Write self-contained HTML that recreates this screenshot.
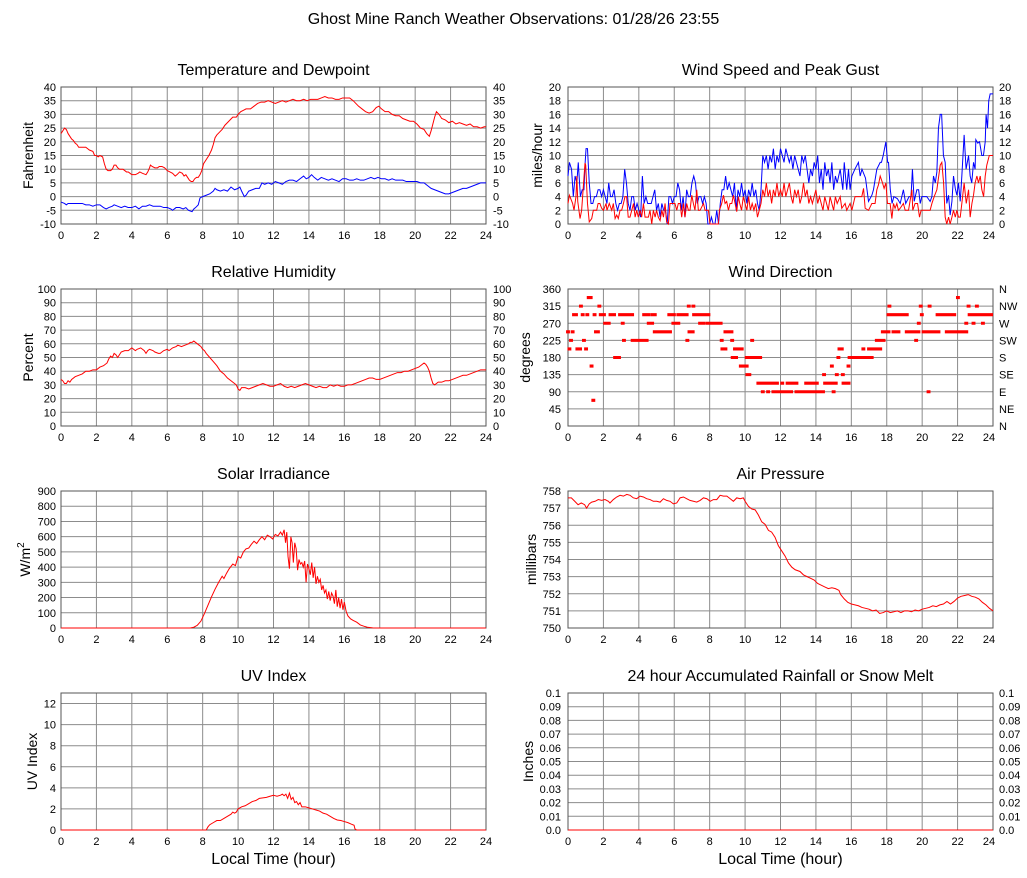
<!DOCTYPE html>
<html><head><meta charset="utf-8"><style>
html,body{margin:0;padding:0;background:#fff}
svg{display:block}
text{font-family:"Liberation Sans",Arial,Helvetica,sans-serif;fill:#000}
.t{font-size:16px;text-anchor:middle}
.k{font-size:11px}
.e{text-anchor:end}
.m{text-anchor:middle}
.a{font-size:14px;text-anchor:middle}
.g{stroke:#8c8c8c;stroke-width:1;fill:none}
.f{stroke:#555;stroke-width:1;fill:none}
.r{stroke:#f00;stroke-width:1;fill:none}
.b{stroke:#00f;stroke-width:1;fill:none}
</style></head><body>
<svg width="1027" height="878" viewBox="0 0 1027 878" xmlns="http://www.w3.org/2000/svg">
<defs>
<path id="vg" d="M35.42 0V137M70.83 0V137M106.25 0V137M141.67 0V137M177.08 0V137M212.5 0V137M247.92 0V137M283.33 0V137M318.75 0V137M354.17 0V137M389.58 0V137"/>
<path id="h10" d="M0 13.7H425M0 27.4H425M0 41.1H425M0 54.8H425M0 68.5H425M0 82.2H425M0 95.9H425M0 109.6H425M0 123.3H425"/>
<path id="h8" d="M0 17.125H425M0 34.25H425M0 51.375H425M0 68.5H425M0 85.625H425M0 102.75H425M0 119.875H425"/>
<path id="h9" d="M0 15.22H425M0 30.44H425M0 45.67H425M0 60.89H425M0 76.11H425M0 91.33H425M0 106.56H425M0 121.78H425"/>
<path id="huv" d="M0 10.54H425M0 31.62H425M0 52.69H425M0 73.77H425M0 94.85H425M0 115.92H425"/>
</defs>
<rect width="1027" height="878" fill="#fff"/>
<text x="513.5" y="24" class="t">Ghost Mine Ranch Weather Observations: 01/28/26 23:55</text>

<!-- titles -->
<text x="273.5" y="75" class="t">Temperature and Dewpoint</text>
<text x="780.5" y="75" class="t">Wind Speed and Peak Gust</text>
<text x="273.5" y="277" class="t">Relative Humidity</text>
<text x="780.5" y="277" class="t">Wind Direction</text>
<text x="273.5" y="479" class="t">Solar Irradiance</text>
<text x="780.5" y="479" class="t">Air Pressure</text>
<text x="273.5" y="681" class="t">UV Index</text>
<text x="780.5" y="681" class="t">24 hour Accumulated Rainfall or Snow Melt</text>
<text x="273.5" y="864" class="t">Local Time (hour)</text>
<text x="780.5" y="864" class="t">Local Time (hour)</text>

<!-- axis labels -->
<text class="a" transform="translate(33,155.5) rotate(-90)">Fahrenheit</text>
<text class="a" transform="translate(33,357.5) rotate(-90)">Percent</text>
<text class="a" transform="translate(30,559.5) rotate(-90)">W/m<tspan font-size="10" dy="-6">2</tspan></text>
<text class="a" transform="translate(37,761.5) rotate(-90)">UV Index</text>
<text class="a" transform="translate(542,155.5) rotate(-90)">miles/hour</text>
<text class="a" transform="translate(530,357.5) rotate(-90)">degrees</text>
<text class="a" transform="translate(536,559.5) rotate(-90)">millibars</text>
<text class="a" transform="translate(533,761.5) rotate(-90)">Inches</text>

<!-- x tick labels -->
<g class="k m" transform="translate(61,239)"><text x="0">0</text><text x="35.4">2</text><text x="70.8">4</text><text x="106.3">6</text><text x="141.7">8</text><text x="177.1">10</text><text x="212.5">12</text><text x="247.9">14</text><text x="283.3">16</text><text x="318.8">18</text><text x="354.2">20</text><text x="389.6">22</text><text x="425">24</text></g>
<g class="k m" transform="translate(568,239)"><text x="0">0</text><text x="35.4">2</text><text x="70.8">4</text><text x="106.3">6</text><text x="141.7">8</text><text x="177.1">10</text><text x="212.5">12</text><text x="247.9">14</text><text x="283.3">16</text><text x="318.8">18</text><text x="354.2">20</text><text x="389.6">22</text><text x="421">24</text></g>
<g class="k m" transform="translate(61,441)"><text x="0">0</text><text x="35.4">2</text><text x="70.8">4</text><text x="106.3">6</text><text x="141.7">8</text><text x="177.1">10</text><text x="212.5">12</text><text x="247.9">14</text><text x="283.3">16</text><text x="318.8">18</text><text x="354.2">20</text><text x="389.6">22</text><text x="425">24</text></g>
<g class="k m" transform="translate(568,441)"><text x="0">0</text><text x="35.4">2</text><text x="70.8">4</text><text x="106.3">6</text><text x="141.7">8</text><text x="177.1">10</text><text x="212.5">12</text><text x="247.9">14</text><text x="283.3">16</text><text x="318.8">18</text><text x="354.2">20</text><text x="389.6">22</text><text x="421">24</text></g>
<g class="k m" transform="translate(61,643)"><text x="0">0</text><text x="35.4">2</text><text x="70.8">4</text><text x="106.3">6</text><text x="141.7">8</text><text x="177.1">10</text><text x="212.5">12</text><text x="247.9">14</text><text x="283.3">16</text><text x="318.8">18</text><text x="354.2">20</text><text x="389.6">22</text><text x="425">24</text></g>
<g class="k m" transform="translate(568,643)"><text x="0">0</text><text x="35.4">2</text><text x="70.8">4</text><text x="106.3">6</text><text x="141.7">8</text><text x="177.1">10</text><text x="212.5">12</text><text x="247.9">14</text><text x="283.3">16</text><text x="318.8">18</text><text x="354.2">20</text><text x="389.6">22</text><text x="421">24</text></g>
<g class="k m" transform="translate(61,845)"><text x="0">0</text><text x="35.4">2</text><text x="70.8">4</text><text x="106.3">6</text><text x="141.7">8</text><text x="177.1">10</text><text x="212.5">12</text><text x="247.9">14</text><text x="283.3">16</text><text x="318.8">18</text><text x="354.2">20</text><text x="389.6">22</text><text x="425">24</text></g>
<g class="k m" transform="translate(568,845)"><text x="0">0</text><text x="35.4">2</text><text x="70.8">4</text><text x="106.3">6</text><text x="141.7">8</text><text x="177.1">10</text><text x="212.5">12</text><text x="247.9">14</text><text x="283.3">16</text><text x="318.8">18</text><text x="354.2">20</text><text x="389.6">22</text><text x="421">24</text></g>

<!-- C1 Temperature -->
<g transform="translate(61,87)">
<g class="g"><use href="#vg"/><use href="#h10"/></g>
<rect class="f" x="0" y="0" width="425" height="137"/>
<g class="k e"><text x="-5" y="4">40</text><text x="-5" y="17.7">35</text><text x="-5" y="31.4">30</text><text x="-5" y="45.1">25</text><text x="-5" y="58.8">20</text><text x="-5" y="72.5">15</text><text x="-5" y="86.2">10</text><text x="-5" y="99.9">5</text><text x="-5" y="113.6">0</text><text x="-5" y="127.3">-5</text><text x="-5" y="141">-10</text></g>
<g class="k"><text x="432" y="4">40</text><text x="432" y="17.7">35</text><text x="432" y="31.4">30</text><text x="432" y="45.1">25</text><text x="432" y="58.8">20</text><text x="432" y="72.5">15</text><text x="432" y="86.2">10</text><text x="432" y="99.9">5</text><text x="432" y="113.6">0</text><text x="432" y="127.3">-5</text><text x="432" y="141">-10</text></g>
<g transform="translate(0,137) scale(17.7083,-2.74) translate(0,10)">
<polyline class="r" vector-effect="non-scaling-stroke" points="0,23 0.1,24 0.2,25 0.3,24.5 0.4,23 0.5,22 0.6,21 0.7,20.5 0.8,19.5 0.9,19 1,18 1.2,18 1.4,18 1.5,17.5 1.6,17 1.8,16.5 1.9,15 2,15 2.1,14.5 2.2,15 2.35,14.5 2.45,12 2.55,10 2.65,9.5 2.8,9.5 2.9,10 3,11.5 3.1,11.5 3.2,10.5 3.3,10 3.4,10 3.5,10 3.6,9.5 3.7,9 3.8,9 3.9,8.5 4,8 4.2,8 4.35,8.5 4.45,9 4.6,8.5 4.8,8 4.9,9 5,10.5 5.05,11.5 5.15,11 5.3,10.5 5.45,10.5 5.55,11 5.7,11 5.85,10.5 6,9.5 6.15,9 6.3,8.5 6.45,7.5 6.55,8 6.7,9 6.85,8.5 6.95,7.5 7.05,8 7.15,7 7.25,6 7.35,5.5 7.45,5.5 7.55,6.5 7.65,7 7.75,7 7.85,8 7.95,9.5 8.05,12 8.2,13.5 8.35,15 8.5,17 8.6,19 8.7,21.5 8.8,22.5 8.95,23.5 9.1,24.5 9.25,26 9.4,27 9.55,28 9.7,29 9.9,29 10,30 10.15,31 10.3,31.5 10.45,32 10.7,32 10.9,33 11.1,34 11.3,34.5 11.5,34.5 11.7,35 11.9,34.5 12.1,34 12.3,34.5 12.5,35 12.7,34.5 12.9,35 13.1,35.5 13.3,35 13.5,35 13.7,35.5 13.9,35 14.1,35.5 14.3,35.5 14.5,35.5 14.7,36 14.9,36.5 15.1,36 15.3,36 15.5,35.5 15.7,35.5 15.9,36 16.1,36 16.3,36 16.5,35 16.65,34 16.8,33 17,32 17.2,31 17.4,30.5 17.6,31 17.8,32.5 17.95,33 18.1,32 18.3,31 18.5,31 18.7,30 18.9,29.5 19.1,29.5 19.3,28.5 19.5,28 19.7,27.5 19.9,27.5 20.1,26.5 20.3,25 20.5,24.5 20.65,23 20.8,22 20.9,24 21,26.5 21.1,29 21.2,31 21.35,30 21.5,28.5 21.7,28 21.9,27 22.1,27.5 22.3,26.5 22.5,27 22.7,26.5 22.9,26 23.1,26.5 23.3,25.5 23.5,25.5 23.7,25 23.9,25.5 24,25.5"/>
<polyline class="b" vector-effect="non-scaling-stroke" points="0,-2 0.2,-2.5 0.3,-3 0.4,-2.5 0.6,-2.5 0.8,-2.5 1,-2.5 1.2,-2.5 1.4,-3 1.6,-3 1.8,-3.5 2,-3 2.2,-3 2.4,-4 2.55,-4.5 2.7,-4 2.9,-3.5 3,-3 3.2,-3.5 3.4,-4 3.6,-3.5 3.8,-4 4,-4 4.2,-3.5 4.4,-4.5 4.6,-3.5 4.8,-3.5 5,-3 5.2,-3.5 5.4,-3.5 5.6,-3.5 5.8,-4 6,-4 6.2,-4.5 6.3,-5 6.5,-4 6.7,-4 6.9,-4.5 7.05,-4 7.2,-5 7.4,-5.5 7.5,-4.5 7.6,-4 7.75,-3 7.85,-0.5 8,0 8.2,0.5 8.4,1 8.6,2 8.7,3 8.8,2.5 9,2 9.2,2.5 9.4,2 9.6,3.5 9.8,2.5 10,3 10.1,3.5 10.2,2 10.35,0 10.45,0.5 10.6,2 10.8,2.5 11,3 11.2,3 11.35,5 11.5,4.5 11.7,5 11.9,4.5 12.1,5.5 12.3,5 12.5,4.5 12.7,5.5 12.9,6 13.1,6 13.3,5.5 13.5,6.5 13.7,7.5 13.85,6.5 14,7 14.15,8 14.3,7 14.5,6 14.7,7 14.9,6.5 15.1,6 15.3,6.5 15.5,6 15.7,5.5 15.9,6.5 16.1,6.5 16.3,6 16.5,6 16.7,6.5 16.9,6 17.1,6 17.3,6.5 17.5,7 17.7,6.5 17.9,7 18.1,6.5 18.3,6.5 18.5,6 18.7,6.5 18.9,6 19.1,6 19.3,6 19.5,5.5 19.7,5.5 19.9,5.5 20.1,5.5 20.3,5 20.5,5 20.7,4 20.9,3 21.1,2.5 21.3,2 21.5,1.5 21.7,1 21.9,1 22.1,1.5 22.3,2 22.5,2.5 22.7,3 22.9,3 23.1,3.5 23.3,4 23.5,4.5 23.7,5 23.9,5 24,5"/>
</g>
</g>

<!-- C2 Wind speed -->
<g transform="translate(568,87)">
<g class="g"><use href="#vg"/><use href="#h10"/></g>
<rect class="f" x="0" y="0" width="425" height="137"/>
<g class="k e"><text x="-7" y="4">20</text><text x="-7" y="17.7">18</text><text x="-7" y="31.4">16</text><text x="-7" y="45.1">14</text><text x="-7" y="58.8">12</text><text x="-7" y="72.5">10</text><text x="-7" y="86.2">8</text><text x="-7" y="99.9">6</text><text x="-7" y="113.6">4</text><text x="-7" y="127.3">2</text><text x="-7" y="141">0</text></g>
<g class="k"><text x="431" y="4">20</text><text x="431" y="17.7">18</text><text x="431" y="31.4">16</text><text x="431" y="45.1">14</text><text x="431" y="58.8">12</text><text x="431" y="72.5">10</text><text x="431" y="86.2">8</text><text x="431" y="99.9">6</text><text x="431" y="113.6">4</text><text x="431" y="127.3">2</text><text x="431" y="141">0</text></g>
<g transform="translate(0,137) scale(17.7083,-6.85)">
<polyline class="b" vector-effect="non-scaling-stroke" points="0,7 0.08,9 0.2,8 0.3,4 0.4,7 0.5,6 0.58,9 0.7,4 0.8,5 0.9,5 0.97,9 1.02,11 1.1,11 1.2,6 1.3,3 1.4,3 1.5,4 1.6,4 1.7,5 1.8,5 1.9,4 2,5 2.1,4 2.2,3 2.3,6 2.4,4 2.5,4 2.6,5 2.7,3 2.8,2 2.9,3 3,3 3.1,4 3.2,8 3.3,6 3.4,3 3.5,2 3.6,4 3.7,4 3.8,2 3.9,3 4,2 4.1,1 4.2,7 4.3,3 4.4,4 4.5,3 4.6,3 4.7,3 4.8,4 4.9,5 5,2 5.1,3 5.2,1 5.3,3 5.4,2 5.5,2 5.6,0 5.7,4 5.8,4 5.9,3 6,4 6.1,4 6.2,6 6.3,5 6.4,2 6.5,4 6.6,1 6.7,5 6.8,4 6.9,4 7,6 7.1,7 7.2,6 7.3,3 7.4,4 7.5,4 7.6,3 7.7,4 7.8,3 7.9,0 8,0 8.1,1 8.2,0 8.3,0 8.4,2 8.5,0 8.6,3 8.7,5 8.8,5 8.9,7 9,5 9.1,6 9.2,5 9.3,4 9.4,6 9.5,2 9.6,5 9.7,4 9.8,6 9.9,4 10,5 10.1,3 10.2,5 10.3,4 10.4,6 10.5,4 10.6,5 10.7,3 10.8,2 10.9,5 11,10 11.1,9 11.2,10 11.3,8 11.4,10 11.5,9 11.6,11 11.7,8 11.8,10 11.9,9 12,11 12.1,10 12.2,9 12.3,11 12.4,10 12.5,9 12.6,10 12.7,8 12.8,10 12.9,9 13,8 13.1,7 13.2,10 13.3,9 13.4,10 13.5,8 13.6,6 13.7,8 13.8,7 13.9,9 14,8 14.1,10 14.2,6 14.3,8 14.4,5 14.5,9 14.6,7 14.7,8 14.8,6 14.9,9 15,5 15.1,7 15.2,6 15.37,8 15.52,5 15.6,9 15.74,5 15.84,8 15.93,5 16.03,7 16.2,8 16.4,9 16.5,7 16.6,8 16.8,6.7 16.97,3.3 17.16,4.2 17.25,5 17.44,8 17.63,9 17.7,9 17.8,10 17.95,12 18.05,9 18.1,9 18.2,5 18.3,3 18.4,4 18.6,3.7 18.76,3 18.94,5 19.07,3 19.26,4 19.37,4 19.45,8 19.55,3.3 19.7,5 19.8,5 19.89,3 19.98,4 20.26,4 20.45,3.3 20.55,4 20.64,7 20.74,6 20.83,7.6 20.92,14 21.02,16 21.1,16 21.2,10 21.3,9 21.39,3 21.49,4.2 21.58,1.3 21.68,3.3 21.77,7 21.87,5.2 21.96,4.2 22.05,6 22.15,3.3 22.24,7 22.37,13 22.48,8 22.62,10 22.71,7 22.8,6 22.9,9 22.99,8 23.03,12.3 23.14,11.8 23.24,12 23.37,10 23.46,10 23.56,12 23.61,16 23.69,14 23.76,18 23.84,19 23.93,19 24,19"/>
<polyline class="r" vector-effect="non-scaling-stroke" points="0,3 0.08,4.2 0.26,3 0.34,2 0.45,4 0.5,7 0.55,3.3 0.68,0.8 0.77,2 0.96,8.9 1,8.6 1.1,3 1.2,0.3 1.34,0.8 1.43,2 1.62,2 1.7,3 1.8,3 1.9,2.3 2,2 2.15,3 2.2,2 2.33,3 2.47,2 2.56,3 2.66,0.8 2.75,1.3 2.84,0.8 2.94,2 3.03,2 3.13,3 3.22,4 3.31,4 3.4,1 3.5,1 3.6,2 3.7,3 3.79,1 3.88,2 3.97,1 4.07,2 4.16,1 4.26,3 4.35,1 4.54,1 4.63,2 4.73,0 4.82,2 4.92,1 5,2 5.1,1 5.2,0.5 5.3,2 5.39,1 5.48,3 5.57,0.3 5.67,0 5.76,3 5.91,3 6.04,3 6.14,2 6.23,3 6.33,3 6.42,1 6.52,3 6.61,1 6.7,3 6.8,2 6.89,2 6.99,4.2 7.08,3 7.17,2 7.27,5 7.36,2 7.46,2 7.65,3 7.74,2 7.83,2 7.93,2 8.02,0 8.21,0 8.4,0 8.49,0 8.55,2 8.68,3 8.78,4.2 8.87,3 8.96,3.3 9.06,2 9.15,3 9.25,3 9.34,4.2 9.53,1.8 9.62,4 9.7,3 9.8,2 9.9,4 10,3 10.1,2 10.2,4 10.3,2 10.4,3 10.5,2 10.6,3 10.7,1 10.8,2 10.9,3 11,5 11.1,4 11.2,6 11.3,4 11.4,5 11.5,3 11.6,5 11.7,4 11.8,6 11.9,4 12,5 12.1,4 12.2,6 12.3,4 12.4,5 12.5,6 12.6,4 12.7,3 12.8,5 12.9,4 13,5 13.1,3 13.2,4 13.3,6 13.4,4 13.5,5 13.6,3 13.7,4 13.8,3 13.9,4 14,5 14.1,3 14.2,4 14.3,3 14.4,2 14.5,4 14.6,3 14.7,2 14.8,4 14.9,3 15,2 15.1,4 15.2,3 15.37,4 15.46,2.3 15.65,3 15.74,2 15.93,3 16.03,2 16.21,4 16.4,4 16.59,4 16.69,5.2 16.78,2.3 16.97,2 17.16,3 17.34,3 17.44,5 17.53,5.7 17.63,7 17.76,6 17.85,5.2 17.95,6 18.04,3 18.19,3 18.29,0.8 18.38,3 18.47,2.3 18.57,3 18.66,2 18.76,2.3 18.94,3 19.04,2 19.23,2 19.42,5 19.47,2 19.6,3 19.74,3 19.85,1 19.94,2 20.17,2 20.45,2 20.55,3 20.68,4 20.83,5 21.02,8.6 21.11,9 21.21,6 21.3,1 21.39,0 21.49,1 21.58,0 21.68,1 21.77,2 21.87,1 21.96,2 22.05,1 22.15,1 22.24,3 22.37,6 22.49,3 22.62,5 22.71,1 22.81,3 22.9,4.2 22.99,6 23.09,7 23.18,6 23.28,7 23.37,5 23.47,4 23.56,7 23.65,8.6 23.79,10 24,10"/>
</g>
</g>

<!-- C3 Humidity -->
<g transform="translate(61,289)">
<g class="g"><use href="#vg"/><use href="#h10"/></g>
<rect class="f" x="0" y="0" width="425" height="137"/>
<g class="k e"><text x="-5" y="4">100</text><text x="-5" y="17.7">90</text><text x="-5" y="31.4">80</text><text x="-5" y="45.1">70</text><text x="-5" y="58.8">60</text><text x="-5" y="72.5">50</text><text x="-5" y="86.2">40</text><text x="-5" y="99.9">30</text><text x="-5" y="113.6">20</text><text x="-5" y="127.3">10</text><text x="-5" y="141">0</text></g>
<g class="k"><text x="432" y="4">100</text><text x="432" y="17.7">90</text><text x="432" y="31.4">80</text><text x="432" y="45.1">70</text><text x="432" y="58.8">60</text><text x="432" y="72.5">50</text><text x="432" y="86.2">40</text><text x="432" y="99.9">30</text><text x="432" y="113.6">20</text><text x="432" y="127.3">10</text><text x="432" y="141">0</text></g>
<g transform="translate(0,137) scale(17.7083,-1.37)">
<polyline class="r" vector-effect="non-scaling-stroke" points="0,34 0.1,33 0.2,31 0.3,31 0.4,33 0.5,32 0.6,34 0.8,36 1,37 1.2,38 1.4,40 1.6,40 1.8,41 2,41 2.2,43 2.4,44 2.6,46 2.7,49 2.8,51 2.9,50 3,53 3.1,52 3.2,50 3.3,52 3.4,54 3.6,55 3.8,55 4,57 4.1,56 4.2,55 4.3,56 4.5,57 4.6,56 4.7,55 4.8,53 4.9,55 5,56 5.2,55 5.3,54 5.5,53 5.6,53 5.8,55 6,56 6.1,55 6.3,57 6.5,58 6.6,59 6.8,58 7,59 7.2,60 7.3,61 7.4,61 7.5,62 7.6,61 7.7,60 7.8,59 7.9,58 8,56 8.1,55 8.2,53 8.4,50 8.6,47 8.8,44 9,40 9.2,38 9.4,35 9.6,33 9.8,31 9.9,30 10,27 10.1,26 10.2,28 10.4,28 10.6,27 10.8,28 11,29 11.2,30 11.4,31 11.6,30 11.8,29 12,29 12.2,30 12.4,31 12.6,29 12.8,28 13,29 13.2,28 13.4,29 13.6,30 13.8,31 14,30 14.2,29 14.4,28 14.6,29 14.8,28 15,28 15.2,30 15.4,29 15.6,30 15.8,29 16,29 16.2,30 16.4,30 16.6,31 16.8,32 17,33 17.2,34 17.4,35 17.6,35 17.8,34 18,34 18.2,35 18.4,36 18.6,37 18.8,38 19,39 19.2,39 19.4,40 19.6,40 19.8,41 20,42 20.2,43 20.4,45 20.5,46 20.6,45 20.7,43 20.8,40 20.9,35 21,31 21.1,30 21.3,32 21.5,32 21.7,33 21.9,33 22.1,34 22.3,35 22.5,36 22.7,37 22.9,37 23.1,38 23.3,39 23.5,40 23.7,41 23.9,41 24,41"/>
</g>
</g>

<!-- C4 Wind direction -->
<g transform="translate(568,289)">
<g class="g"><use href="#vg"/><use href="#h8"/></g>
<rect class="f" x="0" y="0" width="425" height="137"/>
<g class="k e"><text x="-7" y="4">360</text><text x="-7" y="21.1">315</text><text x="-7" y="38.3">270</text><text x="-7" y="55.4">225</text><text x="-7" y="72.5">180</text><text x="-7" y="89.6">135</text><text x="-7" y="106.8">90</text><text x="-7" y="123.9">45</text><text x="-7" y="141">0</text></g>
<g class="k"><text x="431" y="4">N</text><text x="431" y="21.1">NW</text><text x="431" y="38.3">W</text><text x="431" y="55.4">SW</text><text x="431" y="72.5">S</text><text x="431" y="89.6">SE</text><text x="431" y="106.8">E</text><text x="431" y="123.9">NE</text><text x="431" y="141">N</text></g>
<g transform="translate(0,137) scale(17.7083,-0.380556)">
<path fill="#f00" d="M-0.11 243.5h0.22v8h-0.22zM-0.03 198.5h0.22v8h-0.22zM0.06 221h0.22v8h-0.22zM0.15 243.5h0.22v8h-0.22zM0.23 288.5h0.33v8h-0.33zM0.42 198.5h0.37v8h-0.37zM0.62 311h0.22v8h-0.22zM0.72 288.5h0.22v8h-0.22zM0.79 221h0.22v8h-0.22zM0.91 198.5h0.22v8h-0.22zM0.98 288.5h0.22v8h-0.22zM1.06 333.5h0.33v8h-0.33zM1.22 153.5h0.22v8h-0.22zM1.32 63.5h0.22v8h-0.22zM1.39 288.5h0.22v8h-0.22zM1.47 243.5h0.33v8h-0.33zM1.66 311h0.22v8h-0.22zM1.74 288.5h0.4v8h-0.4zM1.99 266h0.42v8h-0.42zM2.29 288.5h0.42v8h-0.42zM2.55 176h0.44v8h-0.44zM2.83 288.5h0.33v8h-0.33zM2.98 266h0.22v8h-0.22zM3.05 221h0.22v8h-0.22zM3.13 288.5h0.6v8h-0.6zM3.54 221h1.01v8h-1.01zM4.19 288.5h0.44v8h-0.44zM4.45 266h0.41v8h-0.41zM4.64 288.5h0.37v8h-0.37zM4.79 243.5h1.08v8h-1.08zM5.61 288.5h0.48v8h-0.48zM5.84 266h0.5v8h-0.5zM6.12 288.5h0.69v8h-0.69zM6.63 221h0.22v8h-0.22zM6.71 311h0.22v8h-0.22zM6.75 243.5h0.4v8h-0.4zM6.97 311h0.22v8h-0.22zM7.01 288.5h0.56v8h-0.56zM7.35 266h0.4v8h-0.4zM7.53 288.5h0.51v8h-0.51zM7.76 266h0.97v8h-0.97zM8.57 221h0.22v8h-0.22zM8.61 198.5h0.39v8h-0.39zM8.78 243.5h0.56v8h-0.56zM9.16 221h0.22v8h-0.22zM9.19 176h0.41v8h-0.41zM9.32 198.5h0.6v8h-0.6zM9.65 153.5h0.55v8h-0.55zM9.98 176h0.22v8h-0.22zM10.02 131h0.33v8h-0.33zM10.29 221h0.22v8h-0.22zM10.17 176h0.79v8h-0.79zM10.64 108.5h1.07v8h-1.07zM10.89 86h0.22v8h-0.22zM11.19 86h0.22v8h-0.22zM11.49 86h1.22v8h-1.22zM11.69 108.5h0.22v8h-0.22zM11.99 108.5h0.22v8h-0.22zM12.29 108.5h0.32v8h-0.32zM12.59 108.5h0.42v8h-0.42zM12.79 86h1.72v8h-1.72zM13.34 108.5h0.63v8h-0.63zM13.94 108.5h0.22v8h-0.22zM14.35 131h0.22v8h-0.22zM14.41 108.5h0.6v8h-0.6zM14.79 153.5h0.22v8h-0.22zM14.89 86h0.22v8h-0.22zM15.01 108.5h0.22v8h-0.22zM15.07 131h0.22v8h-0.22zM15.16 176h0.22v8h-0.22zM15.22 198.5h0.35v8h-0.35zM15.41 131h0.22v8h-0.22zM15.45 108.5h0.5v8h-0.5zM15.73 153.5h0.22v8h-0.22zM15.79 176h1.47v8h-1.47zM16.57 198.5h0.22v8h-0.22zM16.89 198.5h0.85v8h-0.85zM17.33 221h0.6v8h-0.6zM17.67 243.5h0.54v8h-0.54zM17.99 288.5h0.5v8h-0.5zM18.04 311h0.22v8h-0.22zM18.27 243.5h0.5v8h-0.5zM18.49 288.5h0.75v8h-0.75zM19.02 243.5h0.88v8h-0.88zM19.55 221h0.22v8h-0.22zM19.7 266h0.22v8h-0.22zM19.81 311h0.22v8h-0.22zM19.87 288.5h0.22v8h-0.22zM19.97 243.5h0.5v8h-0.5zM20.25 86h0.22v8h-0.22zM20.31 311h0.22v8h-0.22zM20.38 243.5h0.65v8h-0.65zM20.76 288.5h0.74v8h-0.74zM21.28 243.5h0.41v8h-0.41zM21.47 288.5h0.45v8h-0.45zM21.66 243.5h0.94v8h-0.94zM21.91 333.5h0.22v8h-0.22zM22.38 266h0.22v8h-0.22zM22.51 311h0.22v8h-0.22zM22.57 288.5h1.43v8h-1.43zM22.79 266h0.22v8h-0.22zM22.98 311h0.22v8h-0.22zM23.32 266h0.22v8h-0.22z"/>
</g>
</g>

<!-- C5 Solar -->
<g transform="translate(61,491)">
<g class="g"><use href="#vg"/><use href="#h9"/></g>
<rect class="f" x="0" y="0" width="425" height="137"/>
<g class="k e"><text x="-5" y="4">900</text><text x="-5" y="19.2">800</text><text x="-5" y="34.4">700</text><text x="-5" y="49.7">600</text><text x="-5" y="64.9">500</text><text x="-5" y="80.1">400</text><text x="-5" y="95.3">300</text><text x="-5" y="110.6">200</text><text x="-5" y="125.8">100</text><text x="-5" y="141">0</text></g>
<g transform="translate(0,137) scale(17.7083,-0.152222)">
<polyline class="r" vector-effect="non-scaling-stroke" points="0,0 7.3,0 7.5,5 7.7,18 7.9,45 8.1,95 8.3,150 8.5,205 8.7,255 8.9,300 9.1,340 9.2,325 9.35,360 9.5,390 9.7,420 9.85,410 10,470 10.15,460 10.3,500 10.45,520 10.6,525 10.75,550 10.9,570 11.05,555 11.2,580 11.35,600 11.5,580 11.65,610 11.8,600 11.95,585 12.1,615 12.25,605 12.4,630 12.5,610 12.6,645 12.68,560 12.75,630 12.82,470 12.9,390 12.98,600 13.05,560 13.12,430 13.2,560 13.28,520 13.36,380 13.44,450 13.52,420 13.6,430 13.68,400 13.76,440 13.84,300 13.92,420 14,390 14.08,350 14.16,430 14.24,330 14.32,400 14.4,290 14.48,340 14.56,300 14.64,320 14.72,250 14.8,280 14.88,230 14.96,250 15.04,190 15.12,240 15.2,180 15.28,230 15.36,210 15.44,160 15.52,250 15.6,140 15.68,200 15.76,130 15.84,190 15.92,120 16,170 16.1,110 16.2,80 16.35,60 16.5,50 16.7,38 16.9,20 17.1,12 17.3,5 17.6,1 17.8,0 24,0"/>
</g>
</g>

<!-- C6 Pressure -->
<g transform="translate(568,491)">
<g class="g"><use href="#vg"/><use href="#h8"/></g>
<rect class="f" x="0" y="0" width="425" height="137"/>
<g class="k e"><text x="-7" y="4">758</text><text x="-7" y="21.1">757</text><text x="-7" y="38.3">756</text><text x="-7" y="55.4">755</text><text x="-7" y="72.5">754</text><text x="-7" y="89.6">753</text><text x="-7" y="106.8">752</text><text x="-7" y="123.9">751</text><text x="-7" y="141">750</text></g>
<g transform="translate(0,137) scale(17.7083,-17.125) translate(0,-750)">
<polyline class="r" vector-effect="non-scaling-stroke" points="0,757.6 0.19,757.6 0.38,757.4 0.57,757.2 0.75,757.3 0.94,757.2 1.05,757 1.2,757.25 1.34,757.35 1.53,757.4 1.71,757.5 1.9,757.45 2.09,757.5 2.28,757.4 2.37,757.3 2.56,757.5 2.75,757.65 2.94,757.75 3.13,757.7 3.32,757.8 3.5,757.75 3.69,757.6 3.88,757.55 4.07,757.7 4.26,757.65 4.44,757.55 4.63,757.5 4.82,757.4 5.01,757.4 5.2,757.35 5.39,757.55 5.57,757.45 5.76,757.4 5.95,757.25 6.14,757.3 6.33,757.6 6.52,757.65 6.7,757.55 6.89,757.45 7.08,757.4 7.27,757.35 7.46,757.45 7.65,757.6 7.84,757.55 8.03,757.4 8.21,757.5 8.4,757.5 8.59,757.75 8.78,757.7 8.97,757.7 9.16,757.55 9.34,757.4 9.53,757.6 9.72,757.55 9.9,757.6 10,757.4 10.19,757.1 10.38,756.95 10.57,756.9 10.75,756.6 10.94,756.2 11.13,756.05 11.32,755.7 11.5,755.6 11.69,755.3 11.88,754.8 12.07,754.5 12.26,754.2 12.45,753.8 12.64,753.55 12.83,753.4 13.1,753.3 13.3,753.1 13.5,753 13.7,752.9 13.9,752.8 14.1,752.6 14.3,752.5 14.5,752.4 14.7,752.3 14.9,752.35 15.1,752.3 15.3,752.2 15.4,751.95 15.6,751.7 15.8,751.5 16,751.4 16.2,751.35 16.4,751.3 16.6,751.2 16.8,751.15 17,751.1 17.2,751 17.4,751.05 17.6,750.85 17.8,750.9 18,751 18.2,750.9 18.4,750.95 18.6,751 18.8,750.9 19,751 19.2,751 19.4,750.95 19.6,751.05 19.8,751 20,751.1 20.2,751.15 20.4,751.2 20.6,751.3 20.8,751.25 21,751.35 21.2,751.4 21.4,751.55 21.6,751.4 21.8,751.55 22,751.75 22.2,751.85 22.4,751.9 22.6,751.95 22.8,751.85 23,751.8 23.2,751.7 23.4,751.5 23.6,751.35 23.8,751.15 24,751"/>
</g>
</g>

<!-- C7 UV -->
<g transform="translate(61,693)">
<g class="g"><use href="#vg"/><use href="#huv"/></g>
<rect class="f" x="0" y="0" width="425" height="137"/>
<g class="k e"><text x="-5" y="14.5">12</text><text x="-5" y="35.6">10</text><text x="-5" y="56.7">8</text><text x="-5" y="77.8">6</text><text x="-5" y="98.8">4</text><text x="-5" y="119.9">2</text><text x="-5" y="141">0</text></g>
<g transform="translate(0,137) scale(17.7083,-10.53846)">
<polyline class="r" vector-effect="non-scaling-stroke" points="0,0 8.2,0 8.3,0.3 8.4,0.5 8.6,0.7 8.8,0.9 9,0.9 9.2,1.1 9.4,1.3 9.6,1.5 9.7,1.7 9.8,1.6 9.9,1.7 10,2 10.2,2.2 10.4,2.3 10.6,2.5 10.8,2.7 11,2.8 11.2,3 11.4,3.05 11.6,3.1 11.8,3.2 12,3.3 12.2,3.2 12.4,3.3 12.5,3.4 12.6,3.25 12.7,3.4 12.8,3 12.9,3.5 13,2.9 13.1,3.1 13.2,2.6 13.3,2.7 13.4,2.4 13.5,2.6 13.6,2.2 13.8,2.2 14,2.1 14.2,2 14.4,1.9 14.6,1.8 14.8,1.6 15,1.5 15.2,1.3 15.4,1.1 15.6,0.95 15.8,0.9 16,0.8 16.2,0.7 16.4,0.55 16.55,0.45 16.6,0.1 16.7,0 24,0"/>
</g>
</g>

<!-- C8 Rainfall -->
<g transform="translate(568,693)">
<g class="g"><use href="#vg"/><use href="#h10"/></g>
<rect class="f" x="0" y="0" width="425" height="137"/>
<g class="k e"><text x="-7" y="4">0.1</text><text x="-7" y="17.7">0.09</text><text x="-7" y="31.4">0.08</text><text x="-7" y="45.1">0.07</text><text x="-7" y="58.8">0.06</text><text x="-7" y="72.5">0.05</text><text x="-7" y="86.2">0.04</text><text x="-7" y="99.9">0.03</text><text x="-7" y="113.6">0.02</text><text x="-7" y="127.3">0.01</text><text x="-7" y="141">0.0</text></g>
<g class="k"><text x="431" y="4">0.1</text><text x="431" y="17.7">0.09</text><text x="431" y="31.4">0.08</text><text x="431" y="45.1">0.07</text><text x="431" y="58.8">0.06</text><text x="431" y="72.5">0.05</text><text x="431" y="86.2">0.04</text><text x="431" y="99.9">0.03</text><text x="431" y="113.6">0.02</text><text x="431" y="127.3">0.01</text><text x="431" y="141">0.0</text></g>
<path class="r" d="M0 137H425"/>
</g>
</svg>
</body></html>
